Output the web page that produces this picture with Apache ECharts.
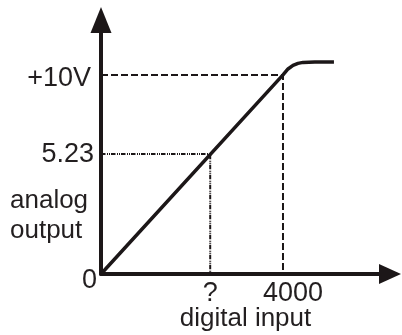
<!DOCTYPE html>
<html>
<head>
<meta charset="utf-8">
<script src="https://cdn.jsdelivr.net/npm/echarts@6/dist/echarts.min.js"></script>
<style>
  html, body { margin: 0; padding: 0; background: #fff; }
  #chart { width: 402px; height: 335px; }
</style>
</head>
<body>
<div id="chart"></div>
<script>
// transfer curve: straight up to 4000 -> +10V, then bends over into a flat top
const curveX = [0, 4000, 4110, 4220, 4330, 4440, 4700, 5120];
const curveY = [0, 10, 10.3, 10.48, 10.58, 10.63, 10.65, 10.65];

// guide levels (where the schematic draws them) and their labels
const yMarks = [0, 6.03, 10];
const yMarkLabels = ['0', '5.23', '+10V'];
const xMarks = [2400, 4000];
const xMarkLabels = ['?', '4000'];

const ink = '#1c1718';
const txt = '#231f20';
const font = 'Liberation Sans, Arial, sans-serif';

const chart = echarts.init(document.getElementById('chart'));

const option = {
    animation: false,
    // y-axis caption sits low beside the axis, so it is placed as a title
    title: {
        text: 'analog\noutput',
        left: 10,
        top: 186,
        padding: 0,
        textStyle: { fontFamily: font, fontSize: 26, fontWeight: 'normal', color: txt, lineHeight: 30 }
    },
    grid: {
        left: 101, right: 12, top: 20, bottom: 61,
        containLabel: false,
        outerBoundsMode: 'none'
    },
    xAxis: {
        type: 'value',
        min: 0,
        max: 6352,
        name: 'digital input',
        nameLocation: 'middle',
        nameGap: 32,
        nameMoveOverlap: false,
        nameTextStyle: { fontFamily: font, fontSize: 26, color: txt },
        axisLine: {
            show: true,
            symbol: ['none', 'triangle'],
            symbolSize: [20, 22],
            lineStyle: { color: ink, width: 4 }
        },
        axisTick: { show: false },
        splitLine: { show: false },
        axisLabel: {
            customValues: xMarks,
            margin: 6,
            fontFamily: font,
            fontSize: 27,
            color: txt,
            formatter: v => {
                const i = xMarks.indexOf(v);
                if (i < 0) return '';
                return i === 1 ? '{r|' + xMarkLabels[i] + '}' : xMarkLabels[i];
            },
            rich: {
                r: { fontFamily: font, fontSize: 27, color: txt, padding: [0, 0, 0, 20] }
            }
        }
    },
    yAxis: {
        type: 'value',
        min: 0,
        max: 12.76,
        axisLine: {
            show: true,
            symbol: ['none', 'triangle'],
            symbolSize: [21, 26],
            lineStyle: { color: ink, width: 4 }
        },
        axisTick: { show: false },
        splitLine: { show: false },
        axisLabel: {
            customValues: yMarks,
            margin: 4,
            fontFamily: font,
            fontSize: 27,
            color: txt,
            formatter: v => {
                const i = yMarks.indexOf(v);
                if (i < 0) return '';
                return '{l' + i + '|' + yMarkLabels[i] + '}';
            },
            rich: {
                l0: { fontFamily: font, fontSize: 27, color: txt, padding: [14, 0, 0, 0] },
                l1: { fontFamily: font, fontSize: 27, color: txt, padding: [2, 3, 0, 0] },
                l2: { fontFamily: font, fontSize: 27, color: txt, padding: [8, 6, 0, 0] }
            }
        }
    },
    series: [
        {
            // +10V / 4000 guide
            type: 'line',
            symbol: 'none',
            silent: true,
            data: [[0, yMarks[2]], [xMarks[1], yMarks[2]], [xMarks[1], 0]],
            lineStyle: { color: ink, width: 2, type: [7, 3] },
            z: 1
        },
        {
            // 5.23 / ? guide, dash-dot-dot
            type: 'line',
            symbol: 'none',
            silent: true,
            data: [[0, yMarks[1]], [xMarks[0], yMarks[1]], [xMarks[0], 0]],
            lineStyle: { color: ink, width: 2, type: [4.5, 1.5, 1, 1, 1, 1] },
            z: 1
        },
        {
            type: 'line',
            symbol: 'none',
            data: curveX.map((x, i) => [x, curveY[i]]),
            lineStyle: { color: ink, width: 3.5, cap: 'butt', join: 'round' },
            z: 3
        }
    ]
};

chart.setOption(option);
</script>
</body>
</html>
